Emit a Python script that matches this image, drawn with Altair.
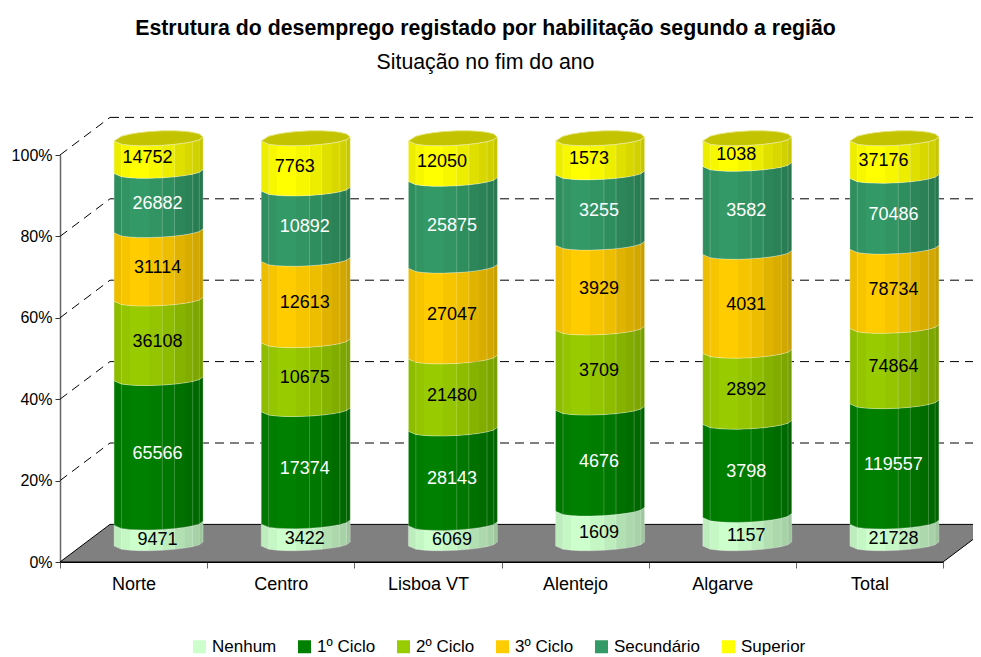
import altair as alt
import numpy as np
import pandas as pd

regioes = ["Norte", "Centro", "Lisboa VT", "Alentejo", "Algarve", "Total"]
series = ["Nenhum", "1º Ciclo", "2º Ciclo", "3º Ciclo", "Secundário", "Superior"]
nenhum = [9471, 3422, 6069, 1609, 1157, 21728]
ciclo1 = [65566, 17374, 28143, 4676, 3798, 119557]
ciclo2 = [36108, 10675, 21480, 3709, 2892, 74864]
ciclo3 = [31114, 12613, 27047, 3929, 4031, 78734]
secundario = [26882, 10892, 25875, 3255, 3582, 70486]
superior = [14752, 7763, 12050, 1573, 1038, 37176]
cores = ["#ccffcc", "#008000", "#99cc00", "#ffcc00", "#339966", "#ffff00"]
cor_texto = ["black", "white", "black", "black", "white", "black"]
niveis = [0.2, 0.4, 0.6, 0.8, 1.0]

valores = np.array([nenhum, ciclo1, ciclo2, ciclo3, secundario, superior], dtype=float)
fracoes = np.vstack([np.zeros(6), np.cumsum(valores / valores.sum(axis=0), axis=0)])

FONT = "Liberation Sans"
W, H = 883, 407
PX = 6 / W          # x units per pixel
PY = 1 / H          # y units per pixel
XS = alt.Scale(domain=[0, 6], nice=False, zero=False)
YS = alt.Scale(domain=[0, 1], nice=False, zero=False)
DX, DY = 50 * PX, 37.6 * PY
XMAX = 6 + 31 * PX
CX, HW = 25 * PX, 44.5 * PX
facetas = [0, .083, .177, .272, .392, .543, .679, .792, .883, .958, 1]
brilho = [.93, .97, 1, 1, .97, .93, .88, .85, .82, .78]
us = 2 * np.array(facetas) - 1

AX = alt.Axis(
    values=[0, 1, 2, 3, 4, 5, 6], grid=False, domainColor="black", tickColor="#666666",
    tickSize=6, labelFont=FONT, labelFontSize=18, labelColor="black", labelPadding=7,
    labelOffset=W / 12, labelOverlap=False, labelFlush=False, labelBound=False, title=None,
    labelExpr="['Norte','Centro','Lisboa VT','Alentejo','Algarve','Total'][datum.value] || ''")
AY = alt.Axis(
    values=[0, .2, .4, .6, .8, 1], format=".0%", grid=False, domainColor="#666666",
    domainWidth=1.5, tickColor="#333333", tickSize=5, labelFont=FONT, labelFontSize=16,
    labelColor="black", labelPadding=3, labelOverlap=False, title=None)
EX = alt.X("x:Q", scale=XS, axis=AX)
EY = alt.Y("y:Q", scale=YS, axis=AY)


def frente(v, u):
    return (18 + 405 * v - 6.5 * np.sqrt(np.clip(1 - u * u, 0, 1)) + 2 * u) * PY


def tras(v, u):
    return (18 + 405 * v + 8 * np.sqrt(np.clip(1 - u * u, 0, 1)) + 2 * u) * PY


def gradiente(cor):
    r, g, b = int(cor[1:3], 16), int(cor[3:5], 16), int(cor[5:7], 16)
    stops = []
    for i, k in enumerate(brilho):
        c = "#%02x%02x%02x" % (int(r * k), int(g * k), int(b * k))
        stops.append(alt.GradientStop(color=c, offset=facetas[i]))
        stops.append(alt.GradientStop(color=c, offset=facetas[i + 1]))
    return alt.Gradient(gradient="linear", stops=stops, x1=0, x2=1, y1=0, y2=0)


def centro(i):
    return i + 0.5 + CX


# floor
chao = pd.DataFrame({
    "x": [0, DX, 6, XMAX],
    "y": [0, 0, 0, (XMAX - 6) / DX * DY],
    "y2": [0, DY, DY, DY],
})
floor = alt.Chart(chao).mark_area(fill="#808080", stroke="black", strokeWidth=1).encode(
    x=EX, y=EY, y2="y2:Q",
)

# dashed walls
linhas = []
for n in niveis:
    linhas.append({"x": 0, "x2": DX, "y": n, "y2": n + DY})
    linhas.append({"x": DX, "x2": XMAX, "y": n + DY, "y2": n + DY})
grelha = alt.Chart(pd.DataFrame(linhas)).mark_rule(
    color="black", strokeWidth=1, strokeDash=[9, 6]
).encode(x=EX, x2="x2:Q", y=EY, y2="y2:Q")

camadas = [floor, grelha]

# cylinder segments
for s, cor in enumerate(cores):
    linhas = []
    for i, reg in enumerate(regioes):
        for u in us:
            linhas.append({
                "regiao": reg,
                "x": centro(i) + u * HW,
                "y": frente(fracoes[s, i], u),
                "y2": frente(fracoes[s + 1, i], u),
            })
    camadas.append(
        alt.Chart(pd.DataFrame(linhas)).mark_area(
            fill=gradiente(cor), stroke="white", strokeOpacity=0.25, strokeWidth=1
        ).encode(x=EX, y=EY, y2="y2:Q", detail="regiao:N")
    )

# top caps
linhas = []
for i, reg in enumerate(regioes):
    for u in us:
        linhas.append({"regiao": reg, "x": centro(i) + u * HW, "y": frente(1, u), "y2": tras(1, u)})
camadas.append(
    alt.Chart(pd.DataFrame(linhas)).mark_area(
        fill="#c3c300", stroke="#e6e680", strokeWidth=1
    ).encode(x=EX, y=EY, y2="y2:Q", detail="regiao:N")
)

# light facet edges
linhas = []
for i in range(6):
    for f in [.083, .543, .679, .883, .958]:
        u = 2 * f - 1
        linhas.append({"x": centro(i) + u * HW, "y": frente(0, u), "y2": frente(1, u)})
camadas.append(
    alt.Chart(pd.DataFrame(linhas)).mark_rule(color="white", opacity=0.22, strokeWidth=1).encode(
        x=EX, y=EY, y2="y2:Q",
    )
)

# value labels
for s, nome in enumerate(series):
    linhas = []
    for i in range(6):
        meio = (fracoes[s, i] + fracoes[s + 1, i]) / 2
        linhas.append({"x": centro(i), "y": frente(meio, 0) + (3.5 if s else 0.5) * PY,
                       "t": str(int(valores[s, i]))})
    camadas.append(
        alt.Chart(pd.DataFrame(linhas)).mark_text(
            font=FONT, fontSize=18, color=cor_texto[s], dx=-11 if s == 5 else -1
        ).encode(x=EX, y=EY, text="t:N")
    )

# legend carrier
legenda = alt.Chart(pd.DataFrame({"s": series, "x": [1] * 6, "y": [.5] * 6})).mark_square(opacity=0).encode(
    x=EX, y=EY,
    fill=alt.Fill("s:N", scale=alt.Scale(domain=series, range=cores), legend=alt.Legend(
        orient="none", legendX=131, legendY=483, direction="horizontal", columns=6,
        symbolType="square", symbolSize=169, symbolOpacity=1, symbolStrokeWidth=0,
        labelFont=FONT, labelFontSize=17, labelColor="black", labelOffset=4,
        columnPadding=19, title=None, labelLimit=200)),
)
camadas.append(legenda)

chart = alt.layer(*camadas).properties(
    width=W, height=H,
    title=alt.TitleParams(
        text="Estrutura do desemprego registado por habilitação segundo a região",
        subtitle="Situação no fim do ano",
        anchor="middle", dx=-16, offset=44, font=FONT, fontWeight="bold", fontSize=21.3,
        color="black", subtitleFont=FONT, subtitleFontSize=21.3, subtitleColor="black",
        subtitlePadding=12),
    autosize=alt.AutoSizeParams(type="none"),
    padding={"left": 52, "top": 147, "right": 30, "bottom": 95},
).configure_view(stroke=None)

chart.save("out.html", embed_options={"renderer": "svg", "actions": False})
